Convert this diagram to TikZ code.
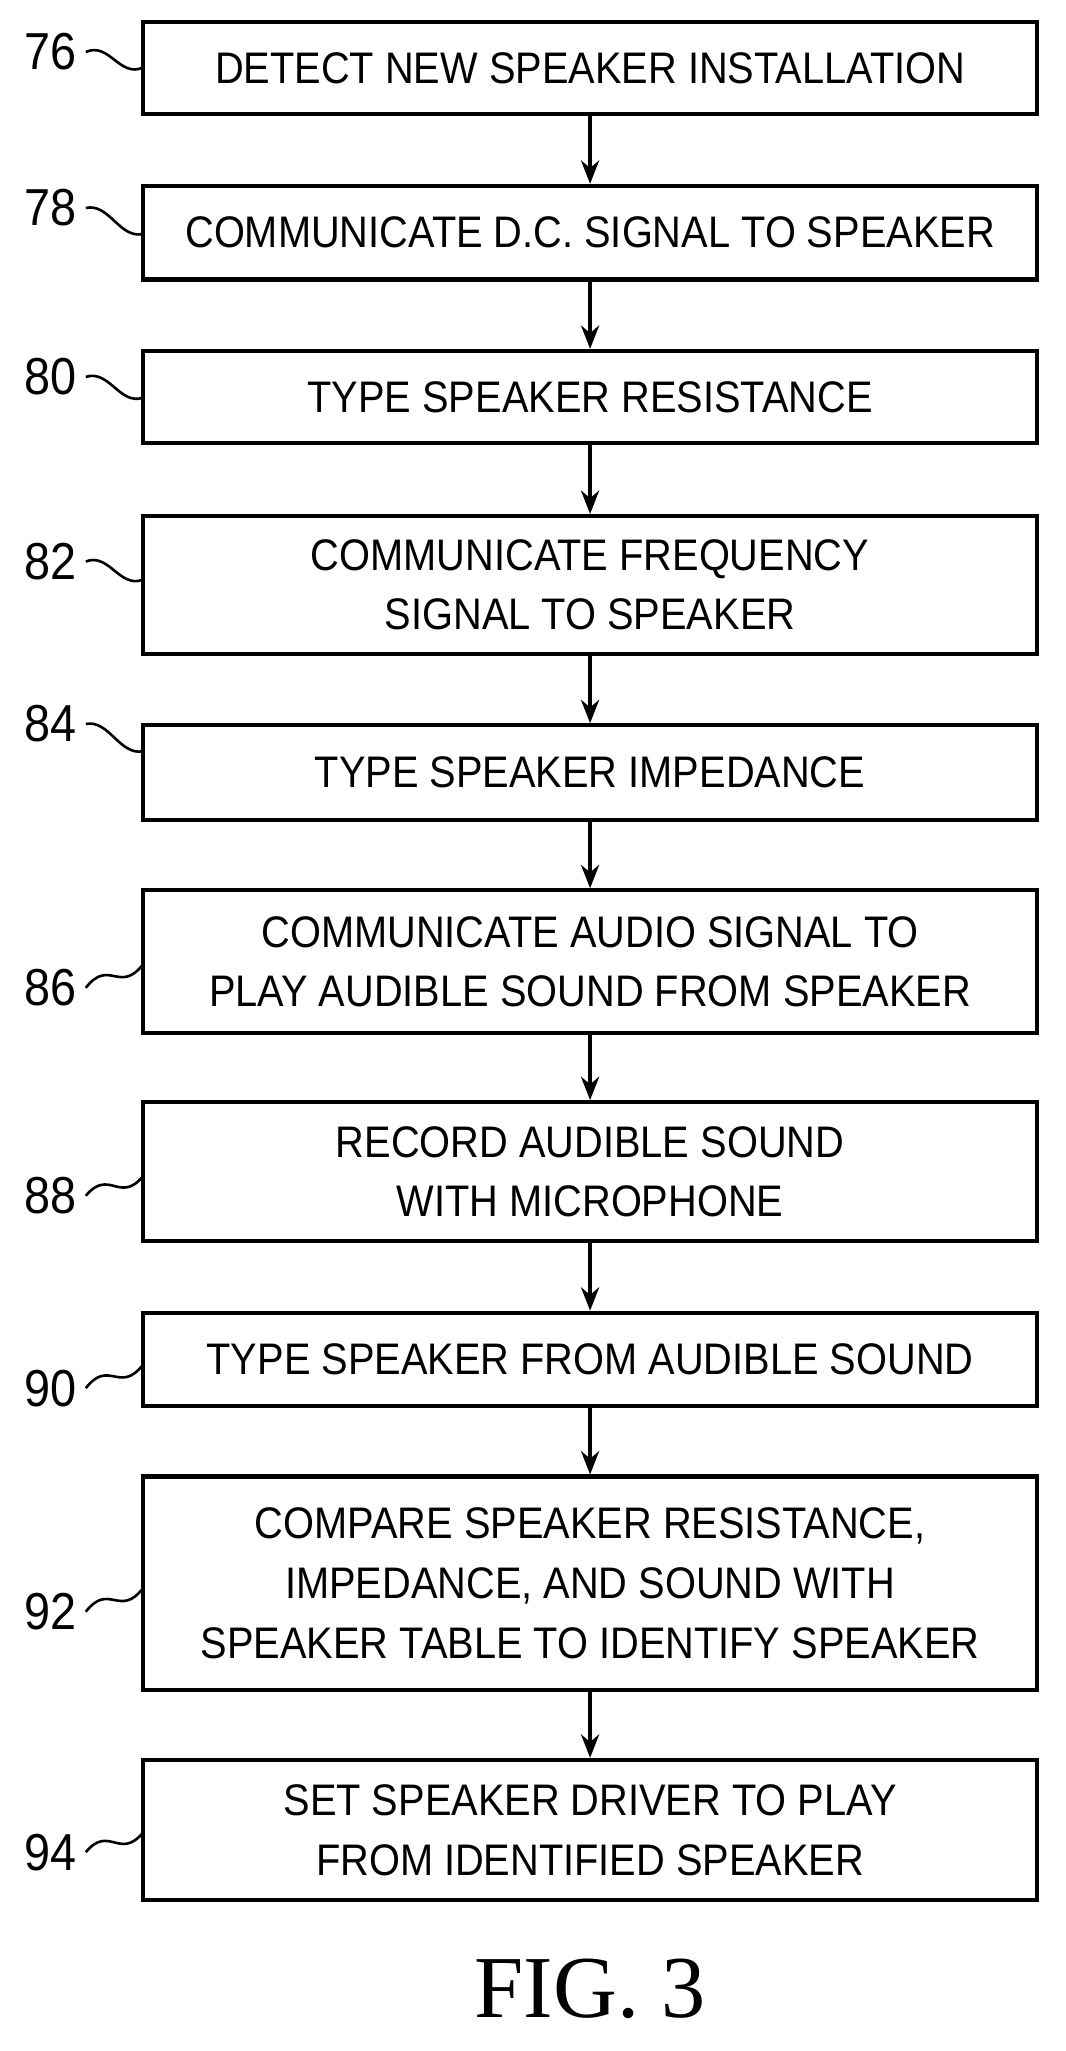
\documentclass[tikz,border=0pt]{standalone}
\usepackage{fontspec}
\setmainfont{Liberation Sans}[FakeStretch=0.9]
\newfontfamily\figfont{Liberation Serif}
\usetikzlibrary{calc,arrows.meta}
\begin{document}
\begin{tikzpicture}[x=0.5pt,y=-0.5pt,
  box/.style={draw,line width=1.6pt,minimum width=344pt,align=center,inner sep=0pt,font=\fontsize{17}{23}\selectfont},
  lab/.style={font=\fontsize{20}{22}\selectfont,anchor=east},
  arr/.style={-{Stealth[length=9pt,width=7pt]},line width=1.3pt},
  sq/.style={line width=1pt}]
\useasboundingbox (0,0) rectangle (820,1578);
\def\bx#1#2#3#4{\node[box,minimum height={(#3-#2)*0.5pt}] (#1) at (454,{(#2+#3)/2}) {#4};}
\bx{b76}{17}{88}{DETECT NEW SPEAKER INSTALLATION}
\bx{b78}{143}{215}{COMMUNICATE D.C. SIGNAL TO SPEAKER}
\bx{b80}{270}{341}{TYPE SPEAKER RESISTANCE}
\bx{b82}{397}{503}{COMMUNICATE FREQUENCY\\SIGNAL TO SPEAKER}
\bx{b84}{558}{631}{TYPE SPEAKER IMPEDANCE}
\bx{b86}{685}{795}{COMMUNICATE AUDIO SIGNAL TO\\PLAY AUDIBLE SOUND FROM SPEAKER}
\bx{b88}{848}{955}{RECORD AUDIBLE SOUND\\WITH MICROPHONE}
\bx{b90}{1010}{1082}{TYPE SPEAKER FROM AUDIBLE SOUND}
\bx{b92}{1136}{1300}{COMPARE SPEAKER RESISTANCE,\\IMPEDANCE, AND SOUND WITH\\SPEAKER TABLE TO IDENTIFY SPEAKER}
\bx{b94}{1354}{1462}{SET SPEAKER DRIVER TO PLAY\\FROM IDENTIFIED SPEAKER}
\foreach \a/\b in {b76/b78,b78/b80,b80/b82,b82/b84,b84/b86,b86/b88,b88/b90,b90/b92,b92/b94}
  \draw[arr] (\a.south) -- (\b.north);
\foreach \n/\y/\t in {76/40/52,78/160/180,80/290/306,82/432/446,84/557/578,86/760/742,88/920/905,90/1068/1050,92/1240/1222,94/1425/1410}{
  \node[lab] (l\n) at (66,\y) {\n};
  \coordinate (t\n) at (110,\t);
  \draw[sq] (l\n.east) .. controls ($(l\n.east)!0.5!(t\n)+(-4,-14)$) and ($(l\n.east)!0.5!(t\n)+(4,14)$) .. (t\n);
}
\node[font=\figfont\fontsize{34}{38}\selectfont] (fig) at (454,1530) {FIG. 3};
\end{tikzpicture}
\end{document}
